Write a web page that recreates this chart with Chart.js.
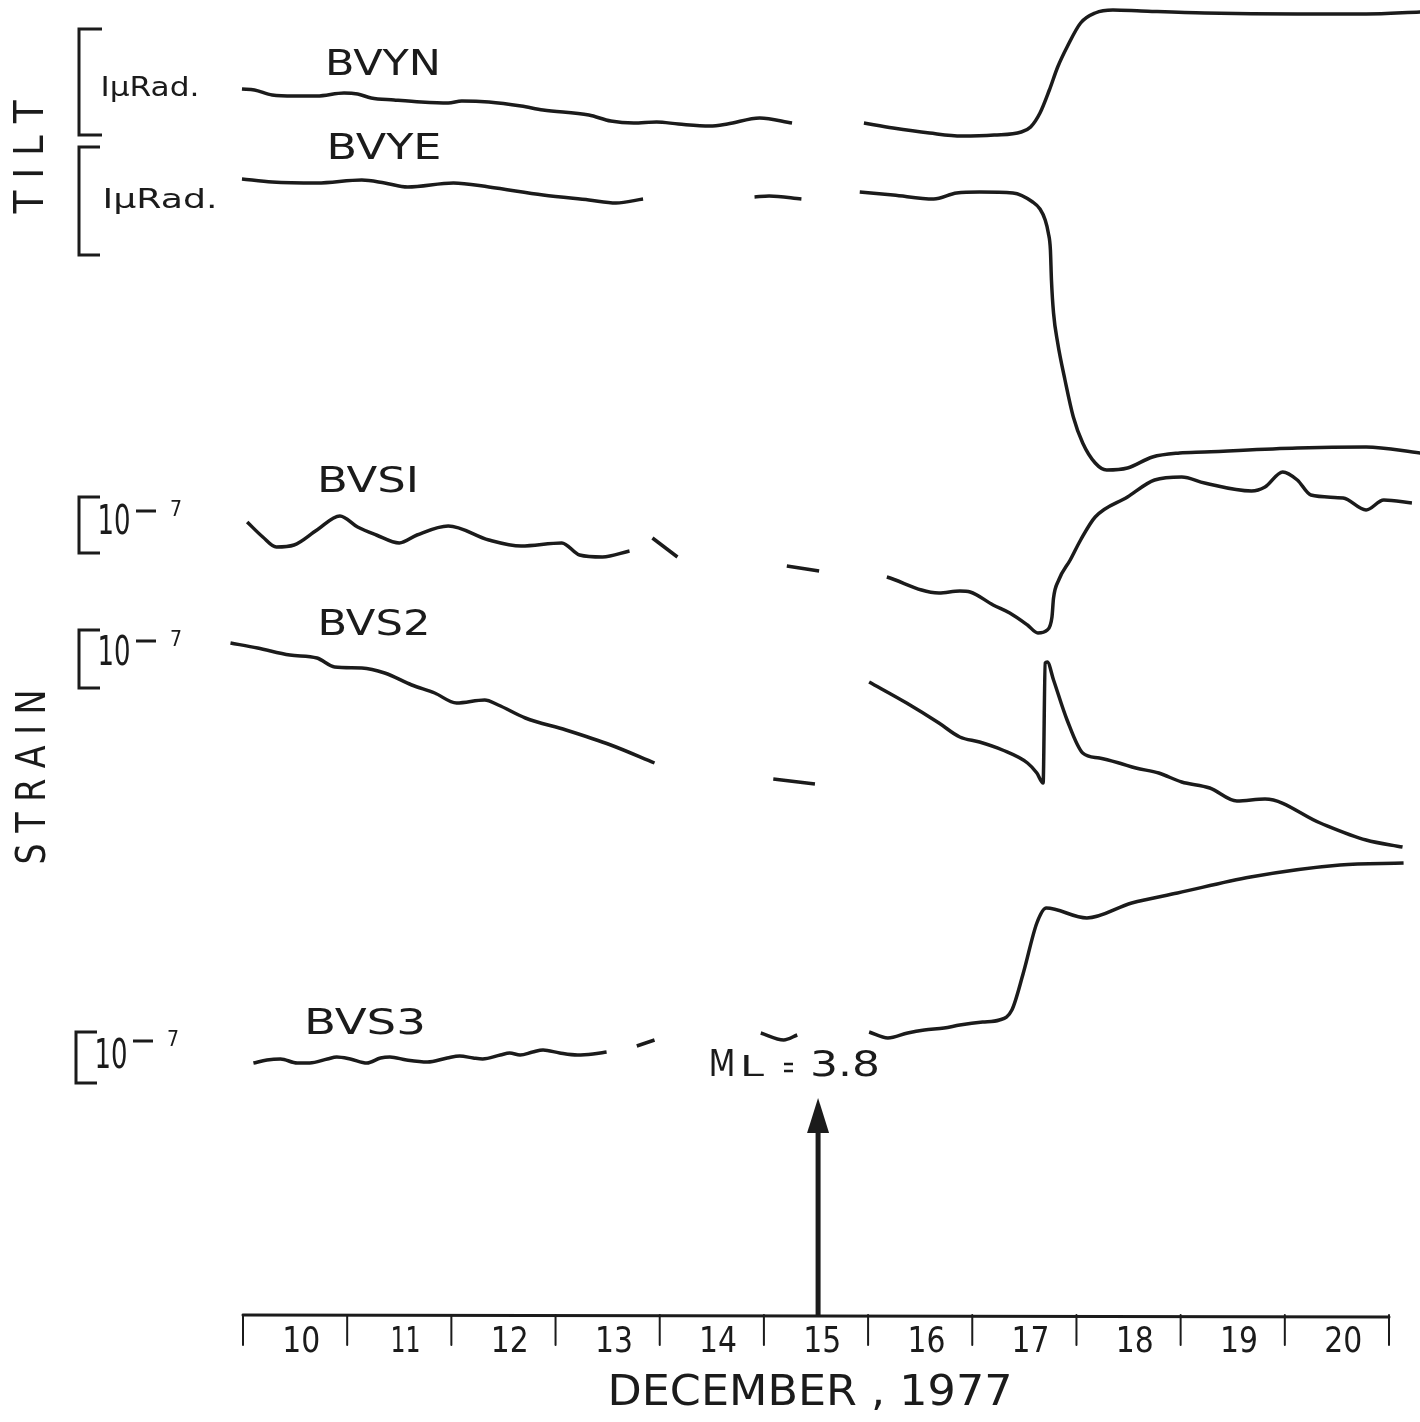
<!DOCTYPE html>
<html>
<head>
<meta charset="utf-8">
<script src="https://cdn.jsdelivr.net/npm/chart.js@4.4.1/dist/chart.umd.min.js"></script>
<style>
  html, body { margin: 0; padding: 0; background: #fff; }
  #wrap { width: 1420px; height: 1422px; }
</style>
</head>
<body>
<div id="wrap"><canvas id="c" width="1420" height="1422"></canvas></div>
<script>
// time in days of December 1977 (tick at 10 = start of the 10th)
// levels: trace deflection in chart units, 0 at top of the sheet, null = gap in record
const bvynDay   = [9.99,10.11,10.28,10.49,10.71,10.97,11.10,11.23,11.45,11.71,11.97,12.10,12.36,12.67,12.88,13.32,13.53,13.75,13.97,14.18,14.48,14.65,14.96,15.27,15.6,15.96,16.24,16.59,16.90,17.21,17.47,17.56,17.65,17.74,17.82,17.91,18.04,18.18,18.35,18.62,19.23,20.12,20.78,21.30]
const bvynLevel = [89,90,95,96,96,93,94,98,100,102,103,101,102,106,110,115,121,123,122,124,126,124,118,123,null,123,128,133,136,135,132,127,113,90,67,47,23,13,10,11,13,14,14,12]

const bvyeDay   = [9.99,10.28,10.71,11.14,11.36,11.58,12.02,12.36,12.88,13.32,13.58,13.84,14.4,14.91,15.05,15.36,15.6,15.92,16.24,16.63,16.85,17.07,17.39,17.58,17.65,17.70,17.73,17.75,17.76,17.78,17.82,17.89,17.97,18.06,18.18,18.29,18.49,18.73,18.99,19.23,20.12,20.78,21.30]
const bvyeLevel = [179,182,183,180,183,187,183,187,195,200,203,199,null,197,196,199,null,192,195,199,193,192,193,202,209,220,233,250,280,313,343,380,417,443,463,470,468,457,453,452,448,447,453]

const bvs1Day   = [10.04,10.19,10.32,10.49,10.71,10.93,11.10,11.28,11.50,11.67,11.97,12.36,12.67,13.06,13.23,13.45,13.71,13.8,13.93,14.17,14.6,15.22,15.53,15.8,16.18,16.68,16.88,16.98,17.20,17.36,17.53,17.63,17.72,17.765,17.78,17.83,17.94,18.04,18.18,18.49,18.75,19.01,19.23,19.68,19.81,19.98,20.12,20.25,20.56,20.78,20.95,21.22]
const bvs1Level = [522,537,547,545,530,516,527,535,543,535,526,540,546,543,555,557,551,null,538,557,null,566,571,null,577,593,591,592,605,613,625,633,630,617,598,580,560,540,517,497,480,477,483,491,487,472,480,495,498,510,500,503]

const bvs2Day   = [9.88,10.14,10.45,10.71,10.88,11.14,11.36,11.62,11.84,12.05,12.32,12.45,12.71,13.10,13.53,13.95,14.5,15.09,15.49,15.75,16.01,16.37,16.68,16.88,17.07,17.29,17.53,17.62,17.68,17.70,17.72,17.78,17.91,18.06,18.22,18.41,18.57,18.79,19.01,19.28,19.54,19.81,20.34,20.78,21.13]
const bvs2Level = [643,648,655,658,667,668,673,685,693,703,700,705,718,730,745,763,null,779,784,null,682,703,723,737,742,750,763,773,783,663,662,680,720,753,758,763,768,773,782,788,801,799,823,840,847]

const bvs3Day   = [10.10,10.23,10.36,10.52,10.64,10.81,10.90,11.03,11.19,11.32,11.41,11.57,11.77,11.96,12.08,12.21,12.30,12.47,12.56,12.66,12.78,12.88,13.04,13.21,13.36,13.49,13.62,13.78,13.95,14.4,14.97,15.19,15.32,15.6,16.01,16.19,16.38,16.54,16.73,16.88,17.10,17.26,17.38,17.49,17.62,17.71,18.10,18.53,18.97,19.67,20.53,21.14]
const bvs3Level = [1063,1060,1059,1063,1063,1059,1057,1059,1063,1058,1057,1060,1062,1058,1056,1058,1059,1055,1053,1055,1052,1050,1053,1055,1054,1052,null,1046,1040,null,1033,1040,1035,null,1032,1038,1033,1030,1028,1025,1022,1020,1010,973,923,908,918,903,893,877,865,863]

const dayTicks   = [10,11,12,13,14,15,16,17,18,19,20,21]
const tickLabels = ["10","11","12","13","14","15","16","17","18","19","20"]
const quakeDay = 15.52

const ink = "#1b1b1b"
const FONT = '"DejaVu Sans", "Liberation Sans", sans-serif'

function pts(days, levels) {
  return days.map((d, i) => ({ x: d, y: levels[i] }))
}
function trace(label, days, levels) {
  return {
    label: label,
    data: pts(days, levels),
    borderColor: ink,
    borderWidth: 3.5,
    pointRadius: 0,
    fill: false,
    spanGaps: false,
    clip: false,
    cubicInterpolationMode: "monotone"
  }
}

// text squeezed to a given width, centred on cx,cy
function txt(ctx, s, cx, cy, size, w, weight) {
  ctx.save()
  ctx.font = (weight || "normal") + " " + size + "px " + FONT
  ctx.textAlign = "center"
  ctx.textBaseline = "middle"
  const m = ctx.measureText(s).width
  ctx.translate(cx, cy)
  if (w) ctx.scale(w / m, 1)
  ctx.fillText(s, 0, 0)
  ctx.restore()
}
function vtxt(ctx, s, cx, cy, size, w) {
  ctx.save()
  ctx.translate(cx, cy)
  ctx.rotate(-Math.PI / 2)
  txt(ctx, s, 0, 0, size, w)
  ctx.restore()
}
function bracket(ctx, x, y1, y2, len) {
  ctx.beginPath()
  ctx.moveTo(x + len, y1)
  ctx.lineTo(x, y1)
  ctx.lineTo(x, y2)
  ctx.lineTo(x + len, y2)
  ctx.stroke()
}
function tenMinus7(ctx, bx, y1, y2, cy, sy) {
  bracket(ctx, bx, y1, y2, 21)
  txt(ctx, "10", bx + 35, cy, 40, 33)
  ctx.beginPath()
  ctx.moveTo(bx + 57, sy); ctx.lineTo(bx + 77, sy)
  ctx.stroke()
  txt(ctx, "7", bx + 97, sy - 1, 22, 12)
}

const sheet = {
  id: "sheet",
  afterDraw(chart) {
    const ctx = chart.ctx
    const xs = chart.scales.x
    ctx.save()
    ctx.fillStyle = ink
    ctx.strokeStyle = ink
    ctx.lineCap = "round"

    // time axis
    const axisY = 1315
    ctx.lineWidth = 3
    ctx.beginPath()
    ctx.moveTo(xs.getPixelForValue(dayTicks[0]), axisY)
    ctx.lineTo(xs.getPixelForValue(dayTicks[dayTicks.length - 1]), axisY + 2)
    ctx.stroke()
    ctx.lineWidth = 2
    dayTicks.forEach(d => {
      const px = xs.getPixelForValue(d)
      ctx.beginPath()
      ctx.moveTo(px, axisY)
      ctx.lineTo(px, axisY + 30)
      ctx.stroke()
    })
    tickLabels.forEach((t, i) => {
      txt(ctx, t, xs.getPixelForValue(dayTicks[i] + 0.56), 1343, 36, t === "11" ? 30 : 38)
    })
    txt(ctx, "DECEMBER , 1977", 810, 1394, 42, 405)

    // earthquake arrow
    const ax = xs.getPixelForValue(quakeDay)
    ctx.lineWidth = 5
    ctx.lineCap = "butt"
    ctx.beginPath()
    ctx.moveTo(ax, 1128); ctx.lineTo(ax, axisY)
    ctx.stroke()
    ctx.beginPath()
    ctx.moveTo(ax, 1098); ctx.lineTo(ax - 11, 1133); ctx.lineTo(ax + 11, 1133)
    ctx.closePath(); ctx.fill()
    txt(ctx, "M", 722, 1066, 38, 27)
    txt(ctx, "L", 752, 1069, 28, 24)
    ctx.lineWidth = 2.5
    ctx.beginPath()
    ctx.moveTo(784, 1064); ctx.lineTo(793, 1064)
    ctx.moveTo(784, 1071); ctx.lineTo(793, 1071)
    ctx.stroke()
    txt(ctx, "3.8", 845, 1067, 35, 70)

    // trace names
    txt(ctx, "BVYN", 383, 66, 36, 116)
    txt(ctx, "BVYE", 384, 150, 36, 115)
    txt(ctx, "BVSI", 368, 483, 36, 102)
    txt(ctx, "BVS2", 374, 626, 36, 113)
    txt(ctx, "BVS3", 365, 1025, 36, 122)

    // scale brackets
    ctx.lineWidth = 3
    ctx.lineCap = "butt"
    bracket(ctx, 79, 29, 135, 23)
    bracket(ctx, 79, 147, 255, 21)
    txt(ctx, "I\u03BCRad.", 150, 89, 27, 99)
    txt(ctx, "I\u03BCRad.", 160, 201, 27, 115)
    tenMinus7(ctx, 79, 497, 553, 524, 511)
    tenMinus7(ctx, 79, 630, 688, 655, 641)
    tenMinus7(ctx, 76, 1032, 1083, 1058, 1041)

    vtxt(ctx, "T I L T", 33, 157, 40, 113)
    vtxt(ctx, "S T R A I N", 35, 777, 40, 175)
    ctx.restore()
  }
}

new Chart(document.getElementById("c").getContext("2d"), {
  type: "line",
  data: {
    datasets: [
      trace("BVYN", bvynDay, bvynLevel),
      trace("BVYE", bvyeDay, bvyeLevel),
      trace("BVS1", bvs1Day, bvs1Level),
      trace("BVS2", bvs2Day, bvs2Level),
      trace("BVS3", bvs3Day, bvs3Level)
    ]
  },
  options: {
    responsive: false,
    animation: false,
    devicePixelRatio: 1,
    layout: { padding: { left: 243, right: 31, top: 0, bottom: 0 } },
    scales: {
      x: { type: "linear", min: 10, max: 21, display: false },
      y: { min: 0, max: 1422, reverse: true, display: false }
    },
    plugins: { legend: { display: false }, tooltip: { enabled: false } }
  },
  plugins: [sheet]
})
</script>
</body>
</html>
